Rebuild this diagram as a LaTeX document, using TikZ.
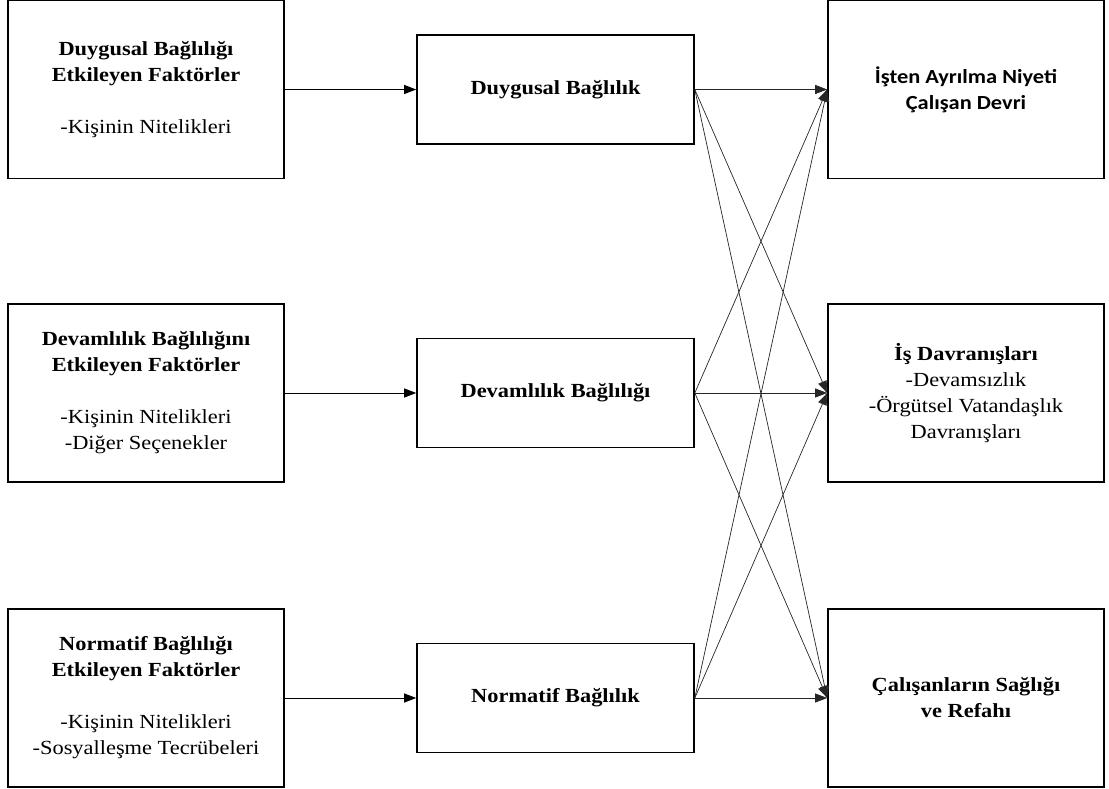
\documentclass[tikz,border=0pt]{standalone}
\usepackage{fontspec}
\setmainfont{Liberation Serif}[FakeStretch=1.12]
\newfontfamily\calibri{Carlito}[FakeStretch=1.12]
\usetikzlibrary{arrows.meta}
\begin{document}
\begin{tikzpicture}[x=1pt,y=-1pt,
  box/.style={draw=black,line width=1.6pt,fill=white,inner sep=0pt,align=center,
    font=\fontsize{20}{26}\selectfont},
  sidebox/.style={box,minimum width=276pt,minimum height=178pt},
  midbox/.style={box,minimum width=277pt,minimum height=109pt},
  arr/.style={line width=0.9pt,-{Triangle[length=12pt,width=9pt]}},
  cross/.style={line width=0.7pt,draw=black!85,-{Triangle[length=12pt,width=9pt]}}]
\useasboundingbox (0,0) rectangle (1109,789);
% left column
\node[sidebox] (L1) at (146,89.5) {\textbf{Duygusal Bağlılığı}\\\textbf{Etkileyen Faktörler}\\[26pt]-Kişinin Nitelikleri};
\node[sidebox] (L2) at (146,393) {\textbf{Devamlılık Bağlılığını}\\\textbf{Etkileyen Faktörler}\\[26pt]-Kişinin Nitelikleri\\-Diğer Seçenekler};
\node[sidebox] (L3) at (146,698) {\textbf{Normatif Bağlılığı}\\\textbf{Etkileyen Faktörler}\\[26pt]-Kişinin Nitelikleri\\-Sosyalleşme Tecrübeleri};
% middle column
\node[midbox] (M1) at (555.5,89.5) {\textbf{Duygusal Bağlılık}};
\node[midbox] (M2) at (555.5,393) {\textbf{Devamlılık Bağlılığı}};
\node[midbox] (M3) at (555.5,698) {\textbf{Normatif Bağlılık}};
% right column
\node[sidebox] (R1) at (966,89.5) {\calibri\bfseries İşten Ayrılma Niyeti\\\calibri\bfseries Çalışan Devri};
\node[sidebox] (R2) at (966,393) {\textbf{İş Davranışları}\\-Devamsızlık\\-Örgütsel Vatandaşlık\\Davranışları};
\node[sidebox] (R3) at (966,698) {\textbf{Çalışanların Sağlığı}\\\textbf{ve Refahı}};
% connectors
\draw[arr] (L1) -- (M1);
\draw[arr] (L2) -- (M2);
\draw[arr] (L3) -- (M3);
\foreach \m in {M1,M2,M3}{
  \foreach \r in {R1,R2,R3}{
    \draw[cross] (\m.east) -- (\r.west);
  }
}
\end{tikzpicture}
\end{document}
